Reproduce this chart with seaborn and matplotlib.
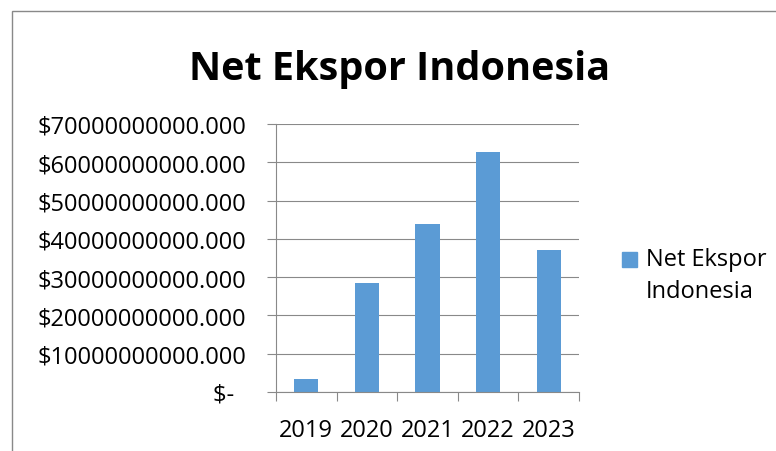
import numpy as np
import pandas as pd
import seaborn as sns
import matplotlib.pyplot as plt
from matplotlib.patches import Rectangle
from matplotlib.legend_handler import HandlerPatch
from matplotlib.ticker import FuncFormatter, FixedLocator

years = ['2019', '2020', '2021', '2022', '2023']
net_ekspor = [3.4e9, 28.4e9, 43.8e9, 62.7e9, 37.0e9]
y_ticks = [0, 1e10, 2e10, 3e10, 4e10, 5e10, 6e10, 7e10]
title = 'Net Ekspor Indonesia'
series_name = 'Net Ekspor\nIndonesia'

df = pd.DataFrame({'Tahun': years, 'Nilai': net_ekspor})

sns.set_style('white')
plt.rcParams['font.family'] = ['Open Sans', 'DejaVu Sans']
plt.rcParams['text.color'] = 'black'
plt.rcParams['xtick.labelcolor'] = 'black'
plt.rcParams['ytick.labelcolor'] = 'black'

W, H = 776, 452
fig = plt.figure(figsize=(W / 100, H / 100), dpi=100)
ax = fig.add_axes([276 / W, 1 - 393 / H, 303 / W, 268 / H])

bar_color = '#5B9BD5'
grid_color = '#898989'
sns.barplot(data=df, x='Tahun', y='Nilai', color=bar_color, width=0.4,
            saturation=1, edgecolor='none', ax=ax)

ax.set_xlim(-0.5, 4.5)
ax.set_ylim(0, 7e10)
ax.set_yticks(y_ticks)
ax.yaxis.set_major_formatter(FuncFormatter(
    lambda v, p: '$-  ' if v == 0 else '${:.3f}'.format(v)))
ax.grid(axis='y', color=grid_color, linewidth=0.8)
ax.set_axisbelow(True)
for s in ['top', 'right']:
    ax.spines[s].set_visible(False)
for s in ['left', 'bottom']:
    ax.spines[s].set_color(grid_color)
    ax.spines[s].set_linewidth(0.8)

ax.xaxis.set_minor_locator(FixedLocator(np.arange(-0.5, 5, 1)))
ax.tick_params(axis='x', which='major', length=0, pad=19, labelsize=17,
               labelcolor='black')
ax.tick_params(axis='x', which='minor', length=6.5, width=0.8,
               color=grid_color, direction='out', bottom=True)
ax.tick_params(axis='y', length=6.5, width=0.8, color=grid_color,
               direction='out', left=True, pad=15, labelsize=17,
               labelcolor='black')
ax.set_xlabel('')
ax.set_ylabel('')

fig.text(400 / W, 1 - 80 / H, title, ha='center', va='baseline',
         fontsize=28.5, fontweight='bold', color='black')


def raised_patch(legend, orig_handle, xdescent, ydescent, width, height, fontsize):
    return Rectangle((-xdescent, -ydescent + 0.7 * fontsize), width, height)


handle = Rectangle((0, 0), 1, 1, color=bar_color)
leg = fig.legend([handle], [series_name], loc='upper left',
                 bbox_to_anchor=(622 / W, 1 - 248 / H), frameon=False, fontsize=17,
                 handlelength=0.65, handleheight=0.6, handletextpad=0.35,
                 borderpad=0, borderaxespad=0, labelspacing=0,
                 handler_map={Rectangle: HandlerPatch(patch_func=raised_patch)})
for t in leg.get_texts():
    t.set_linespacing(1.45)
    t.set_color('black')

frame = Rectangle((12 / W, -0.5), 2, 0.5 + 1 - 12 / H, transform=fig.transFigure,
                  fill=False, edgecolor=grid_color, linewidth=1)
fig.add_artist(frame)

fig.savefig('out.png', dpi=100)
